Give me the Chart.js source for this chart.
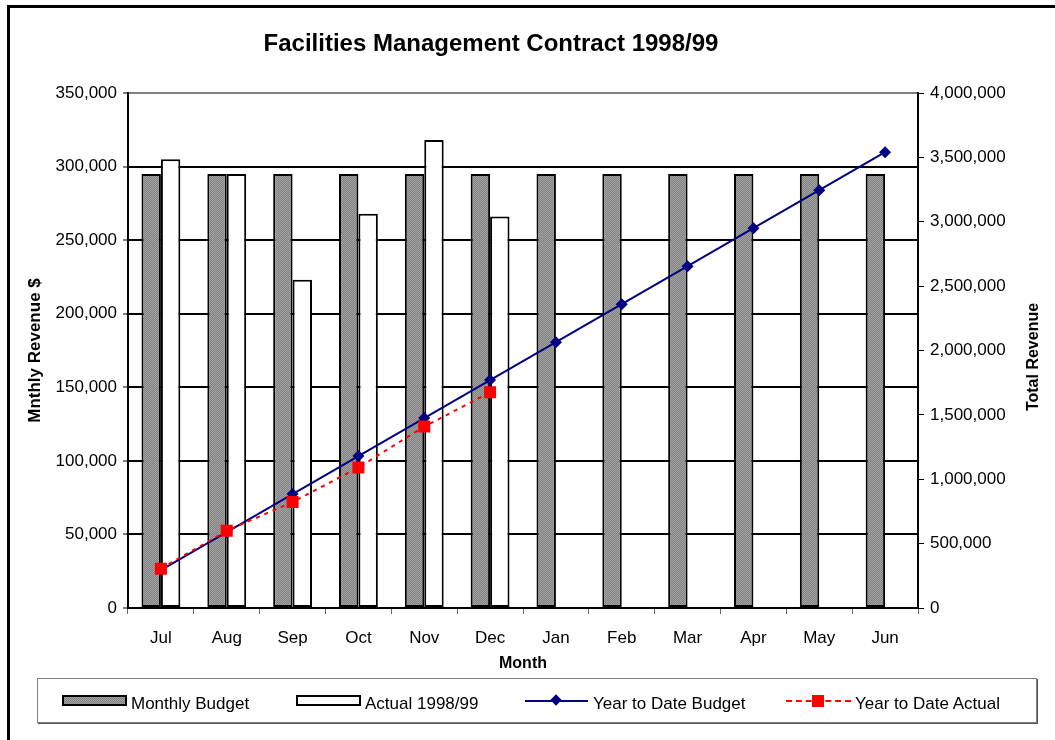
<!DOCTYPE html>
<html>
<head>
<meta charset="utf-8">
<script src="https://cdn.jsdelivr.net/npm/chart.js@4/dist/chart.umd.min.js"></script>
<style>
  body { margin: 0; background: #fff; overflow: hidden; font-family: "Liberation Sans", Arial, sans-serif; }
  #wrap { position: relative; width: 1055px; height: 740px; }
  #frame { position: absolute; left: 7px; top: 5px; width: 2000px; height: 2000px; border-left: 3px solid #000; border-top: 3px solid #000; }
  #chart { position: absolute; left: 0; top: 0; }
  .title { position: absolute; left: 491px; top: 43px; transform: translate(-50%, -50%); font-weight: bold; font-size: 24px; white-space: nowrap; }
  .rtitle { position: absolute; left: 1033px; top: 357px; transform: translate(-50%, -50%) rotate(-90deg); font-weight: bold; font-size: 16px; white-space: nowrap; }
  .legend { position: absolute; left: 37px; top: 678px; width: 998px; height: 43px; border: 1px solid #808080; box-shadow: 1px 1px 0 #555; background: #fff; }
  .item { position: absolute; top: 0; height: 43px; }
  .item span { position: absolute; top: 15px; font-size: 17px; white-space: nowrap; }
  .sym { position: absolute; top: 16px; width: 65px; height: 11px; box-sizing: border-box; }
</style>
</head>
<body>
<div id="wrap">
  <canvas id="chart" width="1055" height="740"></canvas>
  <div id="frame"></div>
  <div class="title">Facilities Management Contract 1998/99</div>
  <div class="rtitle">Total Revenue</div>
  <div class="legend" id="legend"></div>
</div>
<script>
const months = ['Jul', 'Aug', 'Sep', 'Oct', 'Nov', 'Dec', 'Jan', 'Feb', 'Mar', 'Apr', 'May', 'Jun'];
const monthlyBudget = [295000, 295000, 295000, 295000, 295000, 295000, 295000, 295000, 295000, 295000, 295000, 295000];
const actual = [305000, 295000, 223000, 268000, 318000, 266000, null, null, null, null, null, null];
const ytdBudget = [295000, 590000, 885000, 1180000, 1475000, 1770000, 2065000, 2360000, 2655000, 2950000, 3245000, 3540000];
const ytdActual = [305000, 600000, 823000, 1091000, 1409000, 1675000, null, null, null, null, null, null];
const leftTicks = { min: 0, max: 350000, step: 50000 };
const rightTicks = { min: 0, max: 4000000, step: 500000 };

const FONT = '"Liberation Sans", Arial, sans-serif';

function greyPattern(ctx) {
    const c = document.createElement('canvas');
    c.width = 2; c.height = 2;
    const p = c.getContext('2d');
    p.fillStyle = '#828282'; p.fillRect(0, 0, 2, 2);
    p.fillStyle = '#a2a2a2'; p.fillRect(0, 0, 1, 1); p.fillRect(1, 1, 1, 1);
    return ctx.createPattern(c, 'repeat');
}

const canvas = document.getElementById('chart');
const ctx = canvas.getContext('2d');
const pattern = greyPattern(ctx);

new Chart(ctx, {
    type: 'bar',
    data: {
        labels: months,
        datasets: [
            {
                type: 'line',
                label: 'Year to Date Actual',
                data: ytdActual,
                yAxisID: 'y1',
                borderColor: '#ff0000',
                backgroundColor: '#ff0000',
                borderWidth: 2,
                borderDash: [4, 5],
                pointStyle: 'rect',
                pointRadius: 8.5,
                pointBorderWidth: 0,
                spanGaps: false,
                order: 0
            },
            {
                type: 'line',
                label: 'Year to Date Budget',
                data: ytdBudget,
                yAxisID: 'y1',
                borderColor: '#000080',
                backgroundColor: '#000080',
                borderWidth: 2,
                pointStyle: 'rectRot',
                pointRadius: 6,
                pointBorderWidth: 0,
                order: 1
            },
            {
                label: 'Monthly Budget',
                data: monthlyBudget,
                yAxisID: 'y',
                backgroundColor: pattern,
                borderColor: '#000',
                borderWidth: 2,
                borderSkipped: false,
                categoryPercentage: 0.59,
                barPercentage: 1,
                order: 2
            },
            {
                label: 'Actual 1998/99',
                data: actual,
                yAxisID: 'y',
                backgroundColor: '#fff',
                borderColor: '#000',
                borderWidth: 2,
                borderSkipped: false,
                categoryPercentage: 0.59,
                barPercentage: 1,
                order: 2
            }
        ]
    },
    options: {
        responsive: false,
        animation: false,
        layout: { padding: { top: 93, bottom: 60, left: 0, right: 0 } },
        plugins: {
            legend: { display: false },
            tooltip: { enabled: false },
            title: { display: false }
        },
        scales: {
            x: {
                offset: true,
                grid: { drawOnChartArea: false, drawTicks: true, tickLength: 6, color: '#666', offset: true },
                border: { color: '#000', width: 2 },
                ticks: { color: '#000', padding: 14, font: { family: FONT, size: 17 } },
                title: { display: true, text: 'Month', color: '#000', font: { family: FONT, size: 16, weight: 'bold' }, padding: { top: 0, bottom: 7 } },
                afterFit: s => { s.height = 72; }
            },
            y: {
                position: 'left',
                min: leftTicks.min,
                max: leftTicks.max,
                ticks: { stepSize: leftTicks.step, color: '#000', padding: 6, font: { family: FONT, size: 17 } },
                grid: {
                    color: c => (c.tick && c.tick.value === leftTicks.max) ? '#808080' : '#000',
                    lineWidth: 2,
                    tickLength: 5,
                    tickColor: '#000',
                    tickWidth: 1
                },
                border: { color: '#000', width: 2 },
                title: { display: true, text: 'Mnthly Revenue $', color: '#000', font: { family: FONT, size: 17, weight: 'bold' }, padding: { top: 25, bottom: 0 } },
                afterFit: s => { s.width = 128; }
            },
            y1: {
                position: 'right',
                min: rightTicks.min,
                max: rightTicks.max,
                ticks: { stepSize: rightTicks.step, color: '#000', padding: 6, font: { family: FONT, size: 17 } },
                grid: { drawOnChartArea: false, tickLength: 6, tickColor: '#000', tickWidth: 1 },
                border: { color: '#000', width: 2 },
                afterFit: s => { s.width = 137; }
            }
        }
    }
});

// legend, drawn as html next to the canvas
const legendItems = [
    { x: 24, textX: 93, label: 'Monthly Budget', kind: 'grey' },
    { x: 258, textX: 327, label: 'Actual 1998/99', kind: 'white' },
    { x: 487, textX: 555, label: 'Year to Date Budget', kind: 'navy' },
    { x: 748, textX: 817, label: 'Year to Date Actual', kind: 'red' }
];
const legend = document.getElementById('legend');
legendItems.forEach(it => {
    const el = document.createElement('div');
    el.className = 'item';
    let sym = '';
    if (it.kind === 'grey') {
        sym = `<div class="sym" style="left:${it.x}px;background:repeating-conic-gradient(#828282 0 25%,#a2a2a2 0 50%) 0 0/2px 2px;border:2px solid #000"></div>`;
    } else if (it.kind === 'white') {
        sym = `<div class="sym" style="left:${it.x}px;background:#fff;border:2px solid #000"></div>`;
    } else if (it.kind === 'navy') {
        sym = `<div style="position:absolute;left:${it.x}px;top:21px;width:63px;height:2px;background:#000080"></div>
               <div style="position:absolute;left:${it.x + 27}px;top:17px;width:8px;height:8px;background:#000080;transform:rotate(45deg)"></div>`;
    } else {
        sym = `<div style="position:absolute;left:${it.x}px;top:21px;width:65px;height:0;border-top:2px dashed #ff0000"></div>
               <div style="position:absolute;left:${it.x + 26}px;top:16px;width:12px;height:12px;background:#ff0000"></div>`;
    }
    el.innerHTML = sym + `<span style="left:${it.textX}px">${it.label}</span>`;
    legend.appendChild(el);
});
</script>
</body>
</html>
